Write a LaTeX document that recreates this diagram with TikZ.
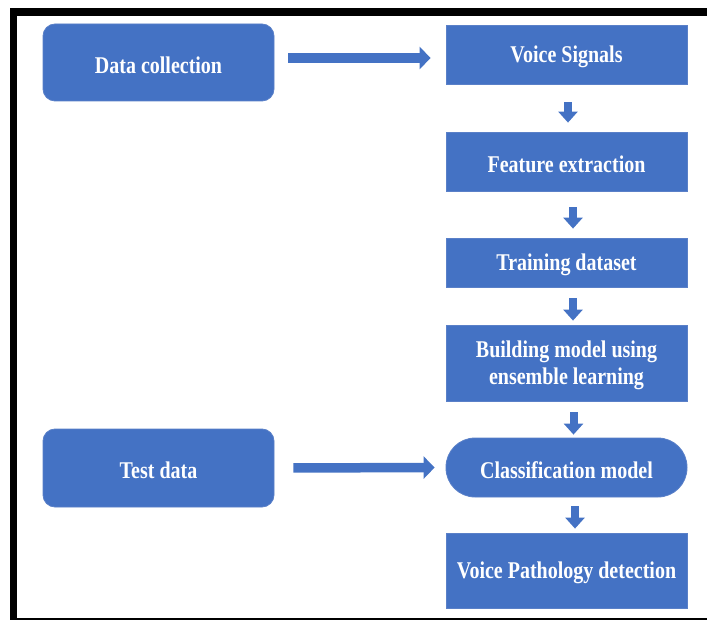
\documentclass[tikz,border=0pt]{standalone}
\usepackage{fontspec}
\setmainfont{Liberation Serif}
\usetikzlibrary{arrows.meta}
\definecolor{boxblue}{HTML}{4472C4}
\definecolor{edgeblue}{HTML}{5A80C8}
\newcommand\vstretch[1]{\raisebox{0pt}[\dimexpr\height+5pt\relax]{\scalebox{1}[1.2]{#1}}}
\tikzset{
  box/.style={fill=boxblue, draw=edgeblue, line width=0.8pt, inner sep=0pt,
    text=white, font=\fontsize{20}{22.5}\selectfont\bfseries, align=center},
  rbox/.style={box, rounded corners=12pt},
  pill/.style={box, rounded corners=29pt},
  harrow/.style={draw=boxblue, line width=9.5pt, -{Triangle[length=11pt,width=22pt]}},
  varrow/.style={draw=boxblue, line width=8pt, -{Triangle[length=11pt,width=19pt]}},
  frame/.style={fill=black, draw=none}
}
\begin{document}
\begin{tikzpicture}[x=1pt, y=-1pt]
\useasboundingbox (0,0) rectangle (707,620);
\fill[white] (0,0) rectangle (707,620);
% frame
\fill[frame] (10,8) rectangle (707,16);
\fill[frame] (10,8) rectangle (17,620);
\fill[frame] (10,617.5) rectangle (707,620);
% nodes
\node[rbox, minimum width=231pt, minimum height=77pt] (dc) at (158.5,62.5) {\vstretch{Data collection}};
\node[rbox, minimum width=231pt, minimum height=78pt] (td) at (158.5,468) {\vstretch{Test data}};
\node[box, minimum width=241pt, minimum height=59pt] (vs) at (566.5,54.5) {\vstretch{Voice Signals}};
\node[box, minimum width=241pt, minimum height=59pt] (fe) at (566.5,161.5) {\vstretch{Feature extraction}};
\node[box, minimum width=241pt, minimum height=49pt] (tds) at (566.5,262.5) {\vstretch{Training dataset}};
\node[box, minimum width=241pt, minimum height=76pt] (bm) at (566.5,363) {\vstretch{\begin{tabular}{@{}c@{}}Building model using\\ensemble learning\end{tabular}}};
\node[pill, minimum width=241pt, minimum height=59pt] (cm) at (566.5,467.5) {\vstretch{Classification model}};
\node[box, minimum width=241pt, minimum height=75pt] (vpd) at (566.5,570.5) {\vstretch{Voice Pathology detection}};
% horizontal arrows
\draw[harrow, shorten <=14pt, shorten >=15pt] ([yshift=4.5pt]dc.east) -- ([yshift=-3.5pt]vs.west);
\draw[harrow, shorten <=19pt, shorten >=11pt] (td.east) -- (cm.west);
% vertical arrows
\draw[varrow, shorten <=18pt, shorten >=9pt] ([xshift=1.5pt]vs.south) -- ([xshift=1.5pt]fe.north);
\draw[varrow, shorten <=16pt, shorten >=9pt] ([xshift=6.5pt]fe.south) -- ([xshift=6.5pt]tds.north);
\draw[varrow, shorten <=11pt, shorten >=4pt] ([xshift=6.5pt]tds.south) -- ([xshift=6.5pt]bm.north);
\draw[varrow, shorten <=11pt, shorten >=3pt] ([xshift=7pt]bm.south) -- ([xshift=7pt]cm.north);
\draw[varrow, shorten <=9pt, shorten >=4pt] ([xshift=8.5pt]cm.south) -- ([xshift=8.5pt]vpd.north);
\end{tikzpicture}
\end{document}
